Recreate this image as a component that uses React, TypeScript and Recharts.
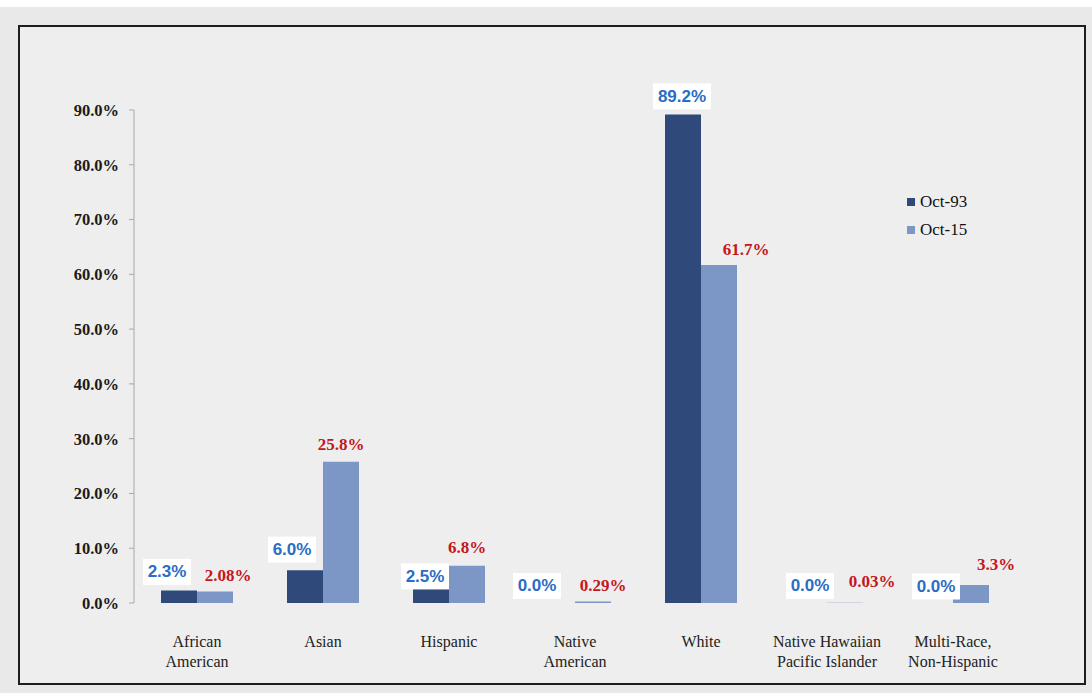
import React from "react";
import { BarChart, Bar, XAxis, YAxis, Legend, LabelList } from "recharts";

// Race / ethnicity share, Oct-93 vs Oct-15 (percent)
const categories = [
  "African\nAmerican",
  "Asian",
  "Hispanic",
  "Native\nAmerican",
  "White",
  "Native Hawaiian\nPacific Islander",
  "Multi-Race,\nNon-Hispanic",
];
const oct93 = [2.3, 6.0, 2.5, 0.0, 89.2, 0.0, 0.0];
const oct15 = [2.08, 25.8, 6.8, 0.29, 61.7, 0.03, 3.3];
const yTicks = [0, 10, 20, 30, 40, 50, 60, 70, 80, 90];

// label nudges so the value boxes don't collide (px)
const OCT93_DX = [-12, -13, -6, -20, -1, 1, 1];
const OCT93_DY = [-18.5, -20.5, -13, -17, -18, -17, -16.5];
const OCT15_DX = [13, 0, 0, 10, 27, 27, 25];
const OCT15_DY = [-16, -17, -18, -16, -16, -21, -20];

const DARK = "#2f4a7a";
const LIGHT = "#7c97c6";
const SERIF = "'Liberation Serif', 'Times New Roman', serif";

const data = categories.map((name, i) => ({
  name,
  oct93: oct93[i],
  oct15: oct15[i],
}));

const Oct93Label = (props: any) => {
  const { x, y, width, value, index } = props;
  if (x == null || y == null) return null;
  const cx = x + width / 2 + OCT93_DX[index];
  const cy = y + OCT93_DY[index];
  const text = `${Number(value).toFixed(1)}%`;
  const w = text.length * 10 + 8;
  return (
    <g>
      <rect x={cx - w / 2} y={cy - 13} width={w} height={26} fill="#ffffff" />
      <text
        x={cx}
        y={cy}
        textAnchor="middle"
        dominantBaseline="central"
        fontFamily="'Liberation Sans', Arial, sans-serif"
        fontWeight="bold"
        fontSize={17}
        fill="#2b6cc4"
      >
        {text}
      </text>
    </g>
  );
};

const Oct15Label = (props: any) => {
  const { x, y, width, value, index } = props;
  if (x == null || y == null) return null;
  return (
    <text
      x={x + width / 2 + OCT15_DX[index]}
      y={y + OCT15_DY[index]}
      textAnchor="middle"
      dominantBaseline="central"
      fontFamily={SERIF}
      fontWeight="bold"
      fontSize={17}
      fill="#c4161c"
    >
      {`${value}%`}
    </text>
  );
};

const CategoryTick = (props: any) => {
  const { x, y, payload } = props;
  const lines = String(payload.value).split("\n");
  return (
    <text x={x} y={y + 36} textAnchor="middle" fontFamily={SERIF} fontSize={16} fill="#222">
      {lines.map((line, i) => (
        <tspan key={i} x={x} dy={i === 0 ? 0 : 20}>
          {line}
        </tspan>
      ))}
    </text>
  );
};

const LegendBox = () => (
  <div style={{ fontFamily: SERIF, fontSize: 17, color: "#111" }}>
    {[
      { label: "Oct-93", color: DARK },
      { label: "Oct-15", color: LIGHT },
    ].map((item) => (
      <div key={item.label} style={{ display: "flex", alignItems: "center", height: 28 }}>
        <span style={{ width: 8, height: 8, background: item.color, marginRight: 5 }} />
        <span>{item.label}</span>
      </div>
    ))}
  </div>
);

// zero-height bars still need a rect so their value label is drawn
const tinyIfZero = (v: any) => (Number(v) === 0 ? 0.01 : 0);

export default function App() {
  return (
    <div
      style={{
        position: "fixed",
        left: 0,
        top: 0,
        width: 1092,
        height: 693,
        background: "#e9e9e9",
        overflow: "hidden",
      }}
    >
      <div style={{ position: "absolute", left: 0, top: 0, width: 1092, height: 7, background: "#ffffff" }} />
      <div
        style={{
          position: "absolute",
          left: 18,
          top: 25,
          width: 1064,
          height: 656,
          border: "2px solid #1e1e1e",
          background: "#eeeeee",
        }}
      />
      <div style={{ position: "absolute", left: 0, top: 0 }}>
        <BarChart
          width={1092}
          height={693}
          data={data}
          margin={{ top: 110, right: 76, bottom: 0, left: 0 }}
          barGap={0}
          barCategoryGap={27}
        >
          <XAxis
            dataKey="name"
            axisLine={false}
            tickLine={false}
            height={90}
            interval={0}
            tick={<CategoryTick />}
          />
          <YAxis
            width={134}
            domain={[0, 90]}
            ticks={yTicks}
            interval={0}
            axisLine={{ stroke: "#a8a8a8" }}
            tickLine={{ stroke: "#a8a8a8" }}
            tickSize={5}
            tickMargin={10}
            tickFormatter={(v: number) => `${v.toFixed(1)}%`}
            tick={{ fontFamily: SERIF, fontWeight: "bold", fontSize: 16.5, fill: "#1a1a1a" }}
          />
          <Legend
            layout="vertical"
            align="center"
            verticalAlign="middle"
            content={<LegendBox />}
            wrapperStyle={{ left: 907, top: 188, width: 110 }}
          />
          <Bar dataKey="oct93" name="Oct-93" fill={DARK} minPointSize={tinyIfZero} isAnimationActive={false}>
            <LabelList dataKey="oct93" content={<Oct93Label />} />
          </Bar>
          <Bar dataKey="oct15" name="Oct-15" fill={LIGHT} isAnimationActive={false}>
            <LabelList dataKey="oct15" content={<Oct15Label />} />
          </Bar>
        </BarChart>
      </div>
    </div>
  );
}
